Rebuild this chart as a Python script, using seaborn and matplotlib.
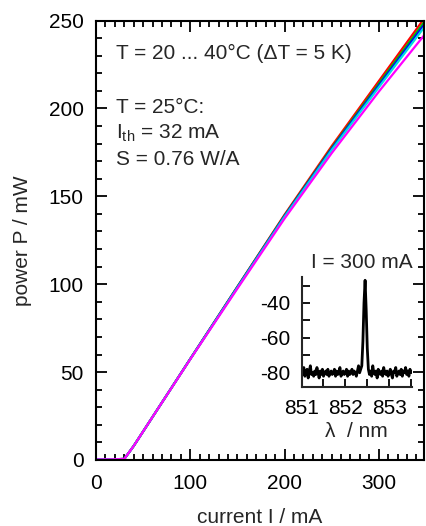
import numpy as np
import pandas as pd
import matplotlib
matplotlib.use("Agg")
import matplotlib.pyplot as plt
from matplotlib.ticker import MultipleLocator
import seaborn as sns

# P-I curves, T = 20 ... 40 degC
current = [0, 20, 30, 40, 60, 100, 150, 200, 250, 300, 348]
temps = ["20", "25", "30", "35", "40"]
p_20 = [0.3, 0.4, 0.6, 8.0, 24.5, 57.5, 98.5, 139.5, 178.5, 215.5, 251.0]
p_25 = [0.3, 0.4, 0.6, 8.0, 24.5, 57.5, 98.5, 139.0, 177.5, 214.0, 249.0]
p_30 = [0.3, 0.4, 0.6, 8.0, 24.5, 57.5, 98.3, 138.7, 177.0, 213.0, 247.5]
p_35 = [0.3, 0.4, 0.6, 8.0, 24.5, 57.4, 98.0, 138.3, 176.3, 212.0, 246.0]
p_40 = [0.3, 0.4, 0.6, 8.0, 24.5, 57.3, 97.5, 137.3, 174.5, 209.5, 241.5]
colors = ["#ff0000", "#00c000", "#0000ff", "#00e0e0", "#ff00ff"]

# spectrum at I = 300 mA
wl_start, wl_step = 851.0, 0.025
spec_db = [-79, -81, -77, -82, -80, -78, -83, -79, -76, -81,
           -80, -82, -79, -81, -77, -80, -83, -79, -81, -78,
           -82, -80, -79, -81, -78, -82, -80, -79, -81, -80,
           -78, -82, -79, -81, -80, -77, -82, -80, -79, -81,
           -80, -78, -82, -79, -81, -80, -78, -81, -79, -80,
           -82, -79, -76, -80, -78, -76, -62, -40, -27, -44,
           -66, -78, -81, -79, -82, -76, -80, -81, -79, -83,
           -78, -80, -81, -79, -82, -77, -80, -81, -79, -82,
           -80, -78, -81, -83, -79, -80, -77, -82, -80, -79,
           -81, -78, -82, -79, -80, -77, -81, -79, -82, -78,
           -80]

rows = []
for t, ps in zip(temps, [p_20, p_25, p_30, p_35, p_40]):
    for i, p in zip(current, ps):
        rows.append({"I": i, "P": p, "T": t})
df = pd.DataFrame(rows)

wl = wl_start + wl_step * np.arange(len(spec_db))
spec = pd.DataFrame({"wl": wl, "db": spec_db})

sns.set_style("ticks")
plt.rcParams["font.family"] = ["Liberation Sans", "DejaVu Sans"]
plt.rcParams["mathtext.fontset"] = "custom"
plt.rcParams["mathtext.rm"] = "Liberation Sans"
plt.rcParams["mathtext.it"] = "Liberation Sans"

FS = 15

fig = plt.figure(figsize=(4.26, 5.26), dpi=100)
ax = fig.add_axes([0.2254, 0.1255, 0.7699, 0.8355])

sns.lineplot(data=df, x="I", y="P", hue="T", palette=colors, lw=1.6,
             legend=False, ax=ax)
ax.set_xlim(0, 348)
ax.set_ylim(0, 250)
ax.xaxis.set_major_locator(MultipleLocator(100))
ax.xaxis.set_minor_locator(MultipleLocator(10))
ax.yaxis.set_major_locator(MultipleLocator(50))
ax.yaxis.set_minor_locator(MultipleLocator(10))
ax.tick_params(which="both", direction="in", top=True, right=True,
               width=1.3, labelsize=FS, colors="black")
ax.tick_params(which="major", length=8)
ax.tick_params(which="minor", length=4.2)
ax.tick_params(axis="x", which="major", pad=10)
ax.tick_params(axis="y", which="major", pad=9)
for s in ax.spines.values():
    s.set_linewidth(1.5)
    s.set_color("black")
ax.set_xlabel("current I / mA", fontsize=FS, labelpad=11)
ax.set_ylabel("power P / mW", fontsize=FS, labelpad=12)

ax.text(0.061, 0.926, "T = 20 ... 40°C (ΔT = 5 K)", transform=ax.transAxes,
        fontsize=FS, va="center")
ax.text(0.061, 0.803, "T = 25°C:", transform=ax.transAxes, fontsize=FS, va="center")
ax.text(0.061, 0.744, "I$_{\\mathrm{th}}$ = 32 mA", transform=ax.transAxes,
        fontsize=FS, va="center")
ax.text(0.061, 0.683, "S = 0.76 W/A", transform=ax.transAxes, fontsize=FS, va="center")

# inset spectrum
ins = fig.add_axes([0.708, 0.2648, 0.259, 0.209])
sns.lineplot(data=spec, x="wl", y="db", color="black", lw=2.0, ax=ins)
ins.set_xlim(851, 853.52)
ins.set_ylim(-88, -25)
ins.xaxis.set_major_locator(MultipleLocator(1))
ins.xaxis.set_minor_locator(MultipleLocator(0.5))
ins.yaxis.set_major_locator(MultipleLocator(20))
ins.yaxis.set_minor_locator(MultipleLocator(10))
ins.yaxis.set_major_formatter(plt.FuncFormatter(lambda v, p: f"{v:.0f}".replace("\u2212", "-")))
ins.tick_params(which="both", direction="in", width=1.3, labelsize=FS, colors="black")
ins.tick_params(which="major", length=6)
ins.tick_params(which="minor", length=6)
ins.tick_params(axis="x", which="major", pad=9)
ins.tick_params(axis="y", which="major", pad=8)
ins.spines["top"].set_visible(False)
ins.spines["right"].set_visible(False)
for s in ["left", "bottom"]:
    ins.spines[s].set_linewidth(1.5)
ins.patch.set_alpha(0)
ins.set_xlabel("λ  / nm", fontsize=FS, labelpad=3)
ins.set_ylabel("")
ins.text(0.85, 0.5, "I = 300 mA", transform=fig.transFigure, fontsize=FS,
         ha="center", va="center")

fig.savefig("out.png", dpi=100)
